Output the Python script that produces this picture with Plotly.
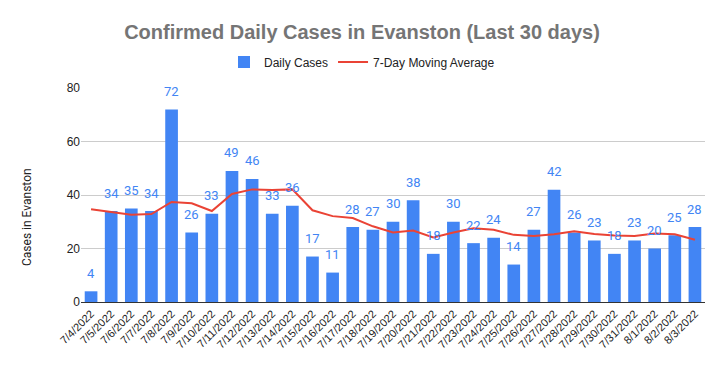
import plotly.graph_objects as go

dates = ["7/4/2022", "7/5/2022", "7/6/2022", "7/7/2022", "7/8/2022", "7/9/2022",
         "7/10/2022", "7/11/2022", "7/12/2022", "7/13/2022", "7/14/2022", "7/15/2022",
         "7/16/2022", "7/17/2022", "7/18/2022", "7/19/2022", "7/20/2022", "7/21/2022",
         "7/22/2022", "7/23/2022", "7/24/2022", "7/25/2022", "7/26/2022", "7/27/2022",
         "7/28/2022", "7/29/2022", "7/30/2022", "7/31/2022", "8/1/2022", "8/2/2022",
         "8/3/2022"]
daily_cases = [4, 34, 35, 34, 72, 26, 33, 49, 46, 33, 36, 17, 11, 28, 27, 30, 38, 18,
               30, 22, 24, 14, 27, 42, 26, 23, 18, 23, 20, 25, 28]
moving_avg = [34.7, 33.6, 32.6, 32.9, 37.4, 36.9, 34.0, 40.4, 42.1, 41.9, 42.1, 34.3,
              32.1, 31.4, 28.3, 26.0, 26.7, 24.1, 26.0, 27.6, 27.0, 25.1, 24.7, 25.3,
              26.4, 25.4, 24.9, 24.7, 25.6, 25.3, 23.3]
y_ticks = [0, 20, 40, 60, 80]

BLUE = "#4285F4"
RED = "#EA4335"

# page body has an 8px margin; lay out the figure relative to that offset
OFF = 8
W, H = 725 - OFF, 371 - OFF
L, R, T, B = 81 - OFF, 20, 88 - OFF, 69
PW, PH = W - L - R, H - T - B

fig = go.Figure()
fig.add_trace(go.Bar(x=dates, y=daily_cases, name="Daily Cases",
                     marker=dict(color=BLUE, line=dict(width=0))))
fig.add_trace(go.Scatter(x=dates, y=moving_avg, name="7-Day Moving Average",
                         mode="lines", line=dict(color=RED, width=2)))

for d, v in zip(dates, daily_cases):
    fig.add_annotation(x=d, y=v, text=str(v), showarrow=False, yshift=18,
                       font=dict(family="Roboto", size=13, color=BLUE))

fig.add_annotation(text="Cases in Evanston", textangle=-90, showarrow=False,
                   xref="paper", yref="paper",
                   x=(27 - OFF - L) / PW, y=(H - B - (217 - OFF)) / PH,
                   xanchor="center", yanchor="middle",
                   font=dict(family="Roboto", size=12, color="#222222"))

fig.update_layout(
    width=W, height=H,
    margin=dict(l=L, r=R, t=T, b=B, autoexpand=False),
    paper_bgcolor="white", plot_bgcolor="white",
    title=dict(text="<b>Confirmed Daily Cases in Evanston (Last 30 days)</b>",
               x=(362 - OFF) / W, xref="container", xanchor="center",
               y=1 - (32 - OFF) / H, yref="container", yanchor="middle",
               font=dict(family="Liberation Sans", size=20, color="#757575")),
    legend=dict(orientation="h", xref="paper", x=(362 - OFF - L) / PW, xanchor="center",
                yref="paper", y=(H - B - (62 - OFF)) / PH, yanchor="middle",
                font=dict(family="Liberation Sans", size=12, color="#222222"),
                traceorder="normal", itemwidth=30),
    bargap=0.37,
    showlegend=True,
)
fig.update_xaxes(type="category", tickangle=-45, showgrid=False, automargin=False,
                 tickfont=dict(family="Liberation Sans", size=11, color="#222222"),
                 showline=True, linecolor="#333333", linewidth=1, ticks="")
fig.update_yaxes(range=[0, 80], tickvals=y_ticks, showgrid=True, gridcolor="#cccccc",
                 zeroline=False, showline=False, ticks="", automargin=False,
                 tickfont=dict(family="Liberation Sans", size=12, color="#222222"))

fig.write_html("out.html")
